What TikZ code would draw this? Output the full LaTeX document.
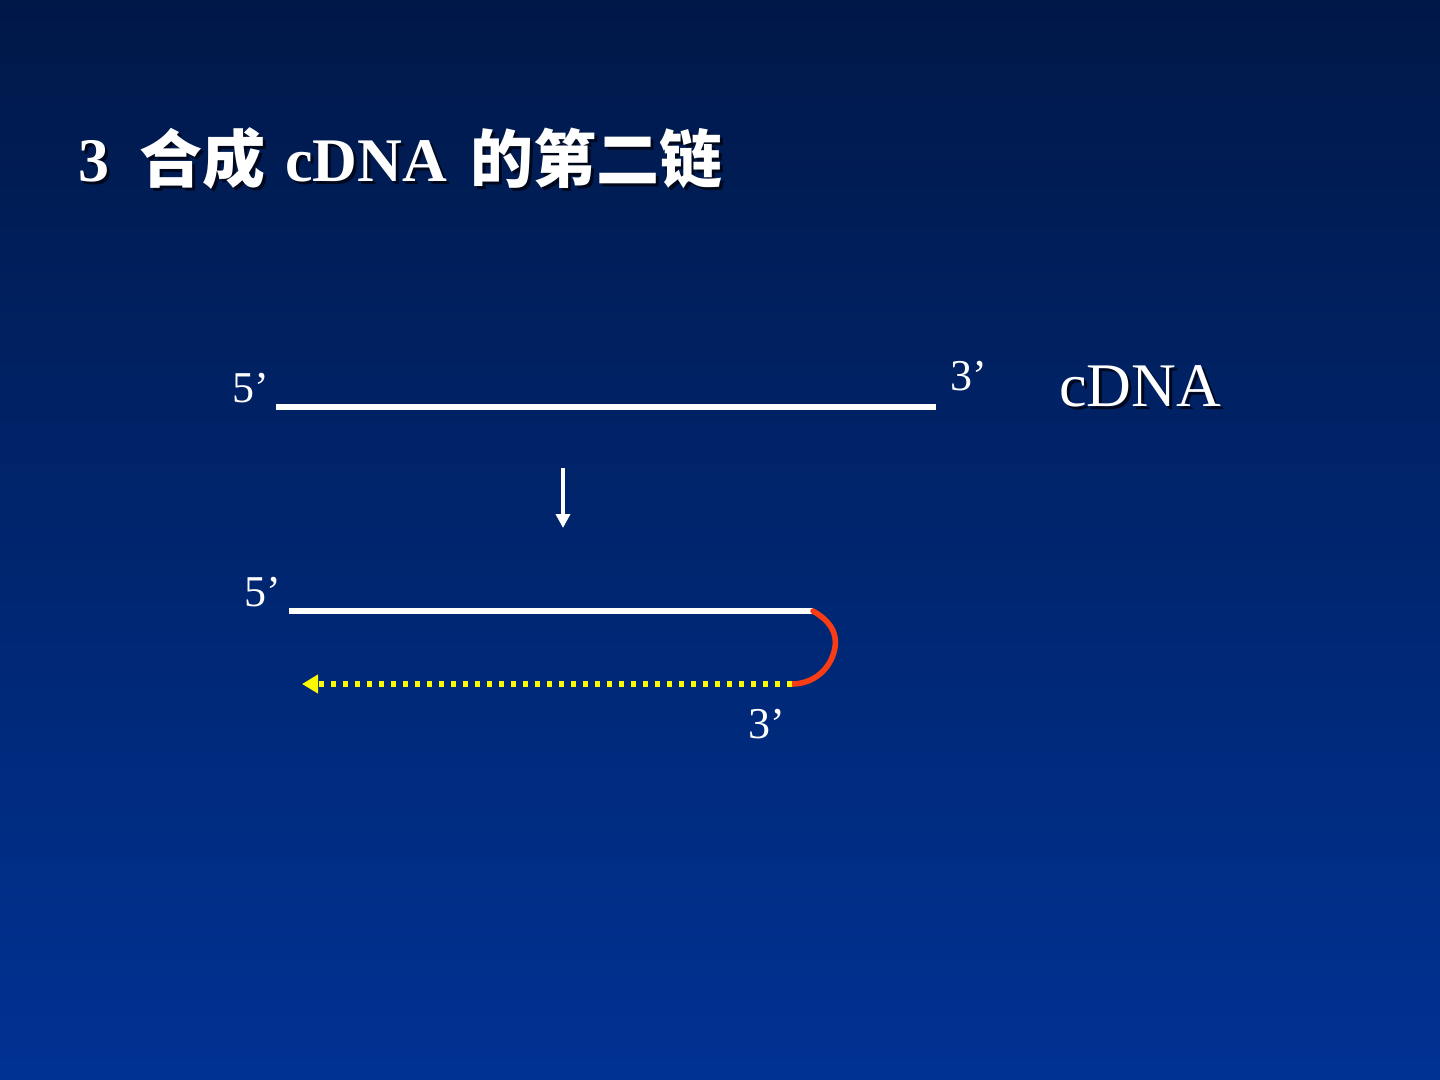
\documentclass[tikz,border=0pt]{standalone}
\usepackage{fontspec}
\setmainfont{Liberation Serif}
\newfontfamily\cjk{Noto Sans CJK SC}
\usetikzlibrary{arrows.meta}
\definecolor{bgtop}{RGB}{0,24,72}
\definecolor{bgbot}{RGB}{0,50,148}
\definecolor{strandred}{RGB}{250,60,20}
\definecolor{dotyellow}{RGB}{250,250,0}
\definecolor{shadowc}{RGB}{0,8,30}
\tikzset{
  lbl/.style={anchor=base west, inner sep=0pt, text=white, font=\fontsize{22pt}{24pt}\selectfont},
  ttl/.style={anchor=base west, inner sep=0pt, text=white, font=\fontsize{31pt}{34pt}\selectfont\bfseries},
  ttlcjk/.style={anchor=base west, inner sep=0pt, text=white, font=\fontsize{31.5pt}{34pt}\selectfont\cjk\bfseries},
  shd/.style={text=shadowc},
  strand/.style={white, line width=3pt},
}
\begin{document}
\begin{tikzpicture}[x=0.5pt,y=-0.5pt]
\shade[top color=bgtop, bottom color=bgbot] (0,0) rectangle (1440,1080);
\useasboundingbox (0,0) rectangle (1440,1080);
% title shadow
\node[ttl,shd] at (81,185) {3};
\node[ttlcjk,shd] at (142,186) {合成};
\node[ttl,shd] at (288,185) {cDNA};
\node[ttlcjk,shd] at (473,186) {的第二链};
% title
\node[ttl] (t1) at (78,182) {3};
\node[ttlcjk] (t2) at (139,183) {合成};
\node[ttl] (t3) at (285,182) {cDNA};
\node[ttlcjk] (t4) at (470,183) {的第二链};
% first strand
\coordinate (a1) at (276,407);
\coordinate (a2) at (936,407);
\draw[strand] (a1) -- (a2);
\node[lbl] (f5) at (232,403) {5’};
\node[lbl] (f3) at (950,391) {3’};
\node[lbl,shd,font=\fontsize{31pt}{34pt}\selectfont] at (1062,410) {cDNA};
\node[lbl,font=\fontsize{31pt}{34pt}\selectfont] (cd) at (1059,407) {cDNA};
% arrow
\coordinate (d1) at (563,468);
\coordinate (d2) at (563,528);
\draw[white, line width=1.8pt, -{Triangle[width=7pt,length=7pt]}] (d1) -- (d2);
% second strand
\coordinate (b1) at (289,611);
\coordinate (b2) at (813,611);
\coordinate (c1) at (792,684);
\coordinate (c2) at (302,684);
\draw[white, line width=2.6pt] (b1) -- (b2);
\draw[strandred, line width=2.8pt, line cap=round] (b2) .. controls (825,618) and (840,630) .. (834,652) .. controls (828,673) and (810,684) .. (c1);
\draw[dotyellow, line width=2.6pt, dash pattern=on 2.6pt off 3.4pt] (c1) -- (316,684);
\draw[dotyellow, line width=2.6pt, -{Triangle[width=9pt,length=8pt]}] (318,684) -- (c2);
\node[lbl] (s5) at (244,606) {5’};
\node[lbl] (s3) at (748,738) {3’};
\end{tikzpicture}
\end{document}
